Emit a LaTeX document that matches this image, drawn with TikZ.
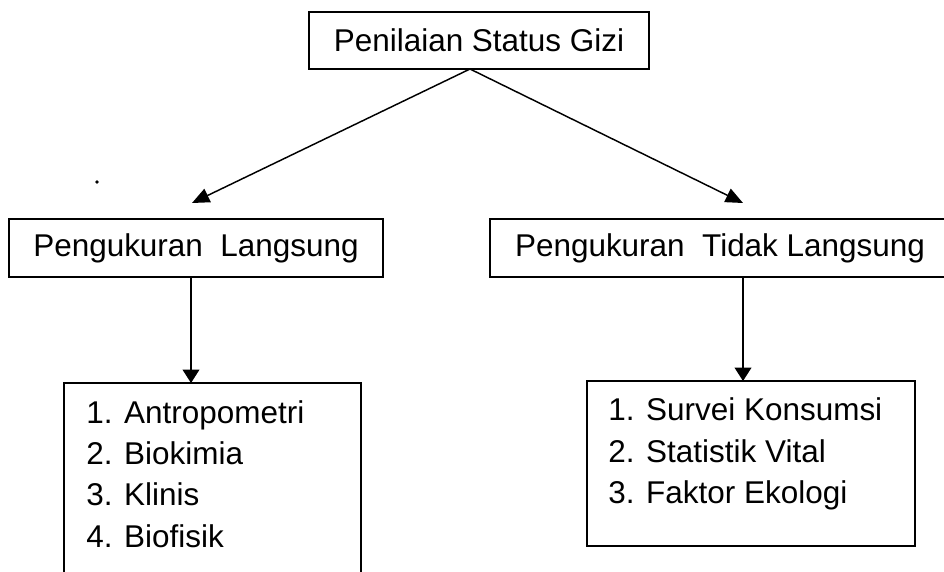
\documentclass[tikz,border=0pt]{standalone}
\usepackage{fontspec}
\setmainfont{Liberation Sans}
\usetikzlibrary{arrows.meta}
\begin{document}
\begin{tikzpicture}[x=0.75pt,y=-0.75pt,
  every node/.style={font=\fontsize{23.6pt}{28pt}\selectfont},
  box/.style={draw, line width=1.1pt, inner sep=0pt, outer sep=0pt, rectangle},
  lst/.style={anchor=base west, inner sep=0pt},
  darr/.style={line width=1.1pt, -{Triangle[length=13pt,width=11pt]}},
  varr/.style={line width=1.1pt, -{Triangle[length=10pt,width=12.5pt]}}]
\useasboundingbox (0,0) rectangle (944,571);
\clip (0,0) rectangle (944,571);
\node[box, minimum width=255pt, minimum height=42.75pt] (top) at (479,40.5) {Penilaian Status Gizi};
\node[box, minimum width=280.5pt, minimum height=43.5pt] (L) at (196,248) {Pengukuran\ \ Langsung};
\node[box, minimum width=345pt, minimum height=43.5pt] (R) at (720,248) {Pengukuran\ \ Tidak Langsung};
\node[box, anchor=north west, minimum width=222.75pt, minimum height=177.75pt] (LL) at (64,383) {};
\node[box, anchor=north west, minimum width=246pt, minimum height=123.75pt] (RR) at (587,381) {};
\node[lst] (l1) at (86,423) {1. Antropometri};
\node[lst] (l2) at (86,464) {2. Biokimia};
\node[lst] (l3) at (86,505) {3. Klinis};
\node[lst] (l4) at (86,547) {4. Biofisik};
\node[lst] (r1) at (608,420) {1. Survei Konsumsi};
\node[lst] (r2) at (608,462) {2. Statistik Vital};
\node[lst] (r3) at (608,503) {3. Faktor Ekologi};
\coordinate (apex) at (470,69);
\coordinate (tipL) at (192,203);
\coordinate (tipR) at (743,203);
\coordinate (aL) at (191,277);
\coordinate (aR) at (743,277);
\draw[darr] (apex) -- (tipL);
\draw[darr] (apex) -- (tipR);
\draw[varr] (aL) -- (aL |- LL.north);
\draw[varr] (aR) -- (aR |- RR.north);
\fill (97,182) circle (1.4pt);
\end{tikzpicture}
\end{document}
